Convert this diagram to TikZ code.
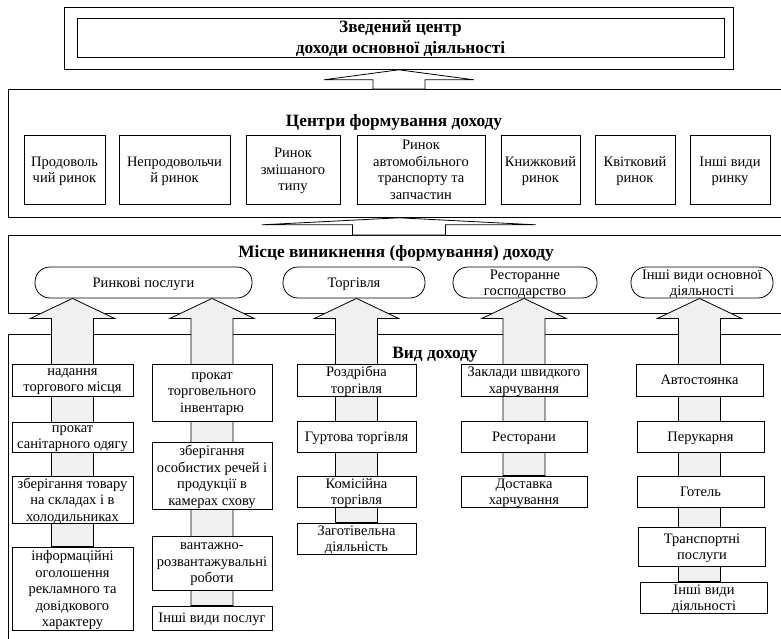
\documentclass[tikz,border=0pt]{standalone}
\usepackage{fontspec}
\setmainfont{Liberation Serif}
\usepackage{tikz}
\usetikzlibrary{positioning, calc}
\definecolor{stemgray}{HTML}{F0F0F0}
\pgfdeclarelayer{frames}
\pgfdeclarelayer{arrows}
\pgfsetlayers{frames,arrows,main}

\tikzset{
  cell/.style={draw, fill=white, align=center, inner sep=0pt, line width=0.8pt,
    text depth=0pt, font=\fontsize{14.5}{16.5}\selectfont},
  pill/.style={cell, rounded corners=15pt},
  frame/.style={draw, line width=0.8pt, anchor=north west, inner sep=0pt},
  headline/.style={align=center, text depth=0pt, font=\fontsize{17.3}{21}\selectfont\bfseries},
  colarrow/.style={draw, fill=stemgray, line width=0.8pt},
  bigarrow/.style={draw, fill=white, line width=0.8pt}
}

\newcommand{\blockarrow}[6]{%
  \draw[#1] let \p1=(#2), \p2=(#3) in
    (\p1) -- (\x1-#4pt,\y1-#5pt) -- (\x1-#6pt,\y1-#5pt) -- (\x1-#6pt,\y2)
    -- (\x1+#6pt,\y2) -- (\x1+#6pt,\y1-#5pt) -- (\x1+#4pt,\y1-#5pt) -- cycle;
}

\begin{document}
\begin{tikzpicture}[x=1pt, y=-1pt]
  \useasboundingbox (0,0) rectangle (781,638);
  \clip (0,0) rectangle (781,638);

  \begin{pgfonlayer}{frames}
    \node[frame, minimum width=669, minimum height=62] (top) at (64,7) {};
    \node[frame, minimum width=790, minimum height=128] (centresbox) at (8,89) {};
    \node[frame, minimum width=790, minimum height=78] (placebox) at (8,235) {};
    \node[frame, minimum width=790, minimum height=380] (kindbox) at (8,334) {};
  \end{pgfonlayer}

  \node[cell, minimum width=647, minimum height=39, headline] (summit) at (400.5,37.5)
    {Зведений центр\\доходи основної діяльності};
  \node[headline] (centrestitle) at (394,120) {Центри формування доходу};
  \node[headline] (placetitle) at (396,251) {Місце виникнення (формування) доходу};
  \node[headline] (kindtitle) at (435,353) {Вид доходу};

  \foreach \x/\w/\name/\txt in {
      64.5/81/m1/{Продоволь\\чий ринок},
      174.5/111/m2/{Непродовольчи\\й ринок},
      293/94/m3/{Ринок\\змішаного\\типу},
      421/128/m4/{Ринок\\автомобільного\\транспорту та\\запчастин},
      540.5/79/m5/{Книжковий\\ринок},
      635/80/m6/{Квітковий\\ринок},
      730/80/m7/{Інші види\\ринку}} {
    \node[cell, minimum width=\w, minimum height=69] (\name) at (\x,169.5) {\txt};
  }

  \node[pill, minimum width=217, minimum height=31] (services) at (143.5,282.5) {Ринкові послуги};
  \node[pill, minimum width=142, minimum height=31] (trade) at (354,282.5) {Торгівля};
  \node[pill, minimum width=144, minimum height=31] (catering) at (525,282.5) {Ресторанне\\господарство};
  \node[pill, minimum width=142, minimum height=31] (otherwork) at (702,282.5) {Інші види основної\\діяльності};

  \node[cell, minimum width=121, minimum height=32] (c1a) at (72.5,380) {надання\\торгового місця};
  \node[cell, minimum width=121, minimum height=30] (c1b) at (72.5,437) {прокат\\санітарного одягу};
  \node[cell, minimum width=121, minimum height=47] (c1c) at (72.5,499.5) {зберігання товару\\на складах і в\\холодильниках};
  \node[cell, minimum width=121, minimum height=83] (c1d) at (72.5,588.5) {інформаційні\\оголошення\\рекламного та\\довідкового\\характеру};

  \node[cell, minimum width=120, minimum height=57] (c2a) at (212,392.5) {прокат\\торговельного\\інвентарю};
  \node[cell, minimum width=120, minimum height=67] (c2b) at (212,475.5) {зберігання\\особистих речей і\\продукції в\\камерах схову};
  \node[cell, minimum width=120, minimum height=54] (c2c) at (212,563) {вантажно-\\розвантажувальні\\роботи};
  \node[cell, minimum width=120, minimum height=24] (c2d) at (212,618) {Інші види послуг};

  \node[cell, minimum width=119, minimum height=32] (c3a) at (356.5,380) {Роздрібна\\торгівля};
  \node[cell, minimum width=119, minimum height=31] (c3b) at (356.5,436.5) {Гуртова торгівля};
  \node[cell, minimum width=119, minimum height=31] (c3c) at (356.5,491.5) {Комісійна\\торгівля};
  \node[cell, minimum width=119, minimum height=31] (c3d) at (356.5,538.5) {Заготівельна\\діяльність};

  \node[cell, minimum width=126, minimum height=32] (c4a) at (524,380) {Заклади швидкого\\харчування};
  \node[cell, minimum width=126, minimum height=31] (c4b) at (524,436.5) {Ресторани};
  \node[cell, minimum width=126, minimum height=31] (c4c) at (524,491.5) {Доставка\\харчування};

  \node[cell, minimum width=127, minimum height=32] (c5a) at (699.5,380) {Автостоянка};
  \node[cell, minimum width=127, minimum height=31] (c5b) at (700.5,436.5) {Перукарня};
  \node[cell, minimum width=127, minimum height=31] (c5c) at (700.5,491.5) {Готель};
  \node[cell, minimum width=127, minimum height=39] (c5d) at (702,546.5) {Транспортні\\послуги};
  \node[cell, minimum width=127, minimum height=31] (c5e) at (704,597.5) {Інші види\\діяльності};

  \begin{pgfonlayer}{arrows}
    \blockarrow{bigarrow}{top.south}{centresbox.north}{75}{10}{26}
    \blockarrow{bigarrow}{top.south |- centresbox.south}{placebox.north}{137}{7}{46.5}
    \blockarrow{colarrow}{c1a.north |- services.south}{c1d.north}{42}{20}{21}
    \blockarrow{colarrow}{c2a.north |- services.south}{c2d.north}{42}{20}{21}
    \blockarrow{colarrow}{c3a.north |- trade.south}{c3d.north}{42}{20}{21}
    \blockarrow{colarrow}{c4a.north |- catering.south}{c4c.north}{42}{20}{21}
    \blockarrow{colarrow}{c5a.north |- otherwork.south}{c5e.north}{42}{20}{21}
  \end{pgfonlayer}
\end{tikzpicture}
\end{document}
